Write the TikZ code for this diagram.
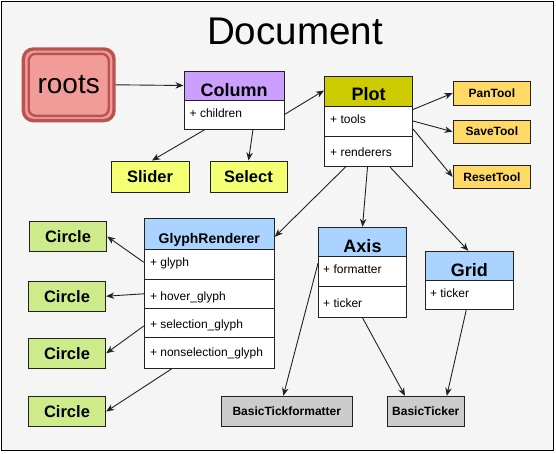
\documentclass[tikz,border=0pt]{standalone}
\usepackage{fontspec}
\setmainfont{Liberation Sans}
\usetikzlibrary{arrows.meta}
\definecolor{bgc}{HTML}{F5F5F5}
\definecolor{rootfill}{HTML}{F19C99}
\definecolor{rootline}{HTML}{B85450}
\definecolor{purp}{HTML}{CC9FFF}
\definecolor{olive}{HTML}{CCCC00}
\definecolor{toolc}{HTML}{FFD966}
\definecolor{yel}{HTML}{F5FF73}
\definecolor{blu}{HTML}{AAD4FF}
\definecolor{grn}{HTML}{CDEB8B}
\definecolor{gry}{HTML}{CCCCCC}
\definecolor{edge}{HTML}{222222}
\tikzset{
  px/.style={x=1pt,y=-1pt},
  box/.style={draw=edge, line width=1pt, inner sep=0pt, anchor=center},
  hdr/.style={box},
  rowbox/.style={box, fill=white},
  ttl/.style={font=\bfseries\fontsize{18}{18}\selectfont, text height=12.9pt, text depth=0pt, inner sep=0pt},
  rowtxt/.style={font=\fontsize{12}{12}\selectfont, anchor=west, inner sep=0pt, text height=6.2pt, text depth=0pt},
  small/.style={box, font=\bfseries\fontsize{12}{12}\selectfont},
  mid/.style={box, font=\bfseries\fontsize{16.5}{16.5}\selectfont},
  arr/.style={draw=edge, line width=0.9pt, -{Stealth[length=8pt,width=6.5pt,inset=2.5pt]}},
}
\begin{document}
\begin{tikzpicture}[px]
\useasboundingbox (0,0) rectangle (556,453);
\fill[bgc] (1.5,1.5) rectangle (553.5,450.5);
\draw[line width=1.6pt, black] (1.5,1.5) rectangle (553.5,450.5);

\node[font=\fontsize{38.6}{38.6}\selectfont, inner sep=0pt, text height=27.6pt, text depth=0pt] (title) at (295,31) {Document};

% roots
\node[draw=rootline, line width=3.4pt, fill=rootfill, rounded corners=10pt, minimum width=90.6pt, minimum height=71.6pt, inner sep=0pt] (roots) at (68.7,84.8) {};
\node[draw=rootline, line width=2.4pt, rounded corners=7pt, minimum width=80pt, minimum height=62pt, inner sep=0pt, font=\fontsize{28}{28}\selectfont] (rootsin) at (68.7,84.8) {roots};

% Column
\node[hdr, fill=purp, minimum width=100pt, minimum height=29pt, label={[ttl, yshift=-4.5pt]center:Column}] (colh) at (234,85.5) {};
\node[rowbox, minimum width=100pt, minimum height=29pt, label={[rowtxt, xshift=6pt]west:+ children}] (colr) at (234,114.5) {};

% Slider / Select
\node[mid, fill=yel, minimum width=78pt, minimum height=31pt] (slider) at (150,176.5) {Slider};
\node[mid, fill=yel, minimum width=77pt, minimum height=31pt] (select) at (248.5,176.5) {Select};

% Plot
\node[hdr, fill=olive, minimum width=88pt, minimum height=30pt, label={[ttl, yshift=-3pt]center:Plot}] (ploth) at (368.5,91) {};
\node[rowbox, minimum width=88pt, minimum height=30pt, label={[rowtxt, xshift=6pt, yshift=1pt]west:+ tools}] (plotr1) at (368.5,121) {};
\node[rowbox, minimum width=88pt, minimum height=30.5pt, label={[rowtxt, xshift=6pt, yshift=-2.5pt]west:+ renderers}] (plotr2) at (368.5,151.25) {};

% Tools
\node[small, fill=toolc, minimum width=77.7pt, minimum height=23.7pt] (pan) at (491.9,93.2) {PanTool};
\node[small, fill=toolc, minimum width=77.7pt, minimum height=22.7pt] (save) at (491.9,131.7) {SaveTool};
\node[small, fill=toolc, minimum width=77.7pt, minimum height=23pt] (reset) at (491.9,176.8) {ResetTool};

% GlyphRenderer
\node[hdr, fill=blu, minimum width=130pt, minimum height=31pt, label={[ttl, font=\bfseries\fontsize{14}{14}\selectfont, text height=10pt, yshift=-4.5pt]center:GlyphRenderer}] (grh) at (209.3,233.8) {};
\node[rowbox, minimum width=130pt, minimum height=30pt, label={[rowtxt, xshift=6pt, yshift=1pt]west:+ glyph}] (grr1) at (209.3,264.3) {};
\node[rowbox, minimum width=130pt, minimum height=29pt, label={[rowtxt, xshift=6pt, yshift=-3.5pt]west:+ hover\_glyph}] (grr2) at (209.3,293.8) {};
\node[rowbox, minimum width=130pt, minimum height=28.7pt, label={[rowtxt, xshift=6pt, yshift=-2.5pt]west:+ selection\_glyph}] (grr3) at (209.3,322.65) {};
\node[rowbox, minimum width=130pt, minimum height=31.3pt, label={[rowtxt, xshift=6pt, yshift=-0.5pt]west:+ nonselection\_glyph}] (grr4) at (209.3,352.65) {};

% Circles
\node[mid, fill=grn, minimum width=77.4pt, minimum height=30.4pt] (c1) at (68,236.5) {Circle};
\node[mid, fill=grn, minimum width=77.4pt, minimum height=30.3pt] (c2) at (67,296.2) {Circle};
\node[mid, fill=grn, minimum width=77.4pt, minimum height=30pt] (c3) at (67,353.3) {Circle};
\node[mid, fill=grn, minimum width=77.4pt, minimum height=30.4pt] (c4) at (67,411.5) {Circle};

% Axis
\node[hdr, fill=blu, minimum width=88pt, minimum height=29pt, label={[ttl, yshift=-3.8pt]center:Axis}] (axh) at (362.5,241.8) {};
\node[rowbox, minimum width=88pt, minimum height=30pt, label={[rowtxt, xshift=5pt, yshift=1.3pt]west:+ formatter}] (axr1) at (362.5,271.3) {};
\node[rowbox, minimum width=88pt, minimum height=31pt, label={[rowtxt, xshift=5pt, yshift=-2.2pt]west:+ ticker}] (axr2) at (362.5,301.8) {};

% Grid
\node[hdr, fill=blu, minimum width=88pt, minimum height=29pt, label={[ttl, yshift=-4pt]center:Grid}] (gdh) at (469.3,265.8) {};
\node[rowbox, minimum width=88pt, minimum height=29pt, label={[rowtxt, xshift=5pt, yshift=0.8pt]west:+ ticker}] (gdr1) at (469.3,294.8) {};

% Basic
\node[small, fill=gry, minimum width=131pt, minimum height=30pt] (btf) at (286.8,411.3) {BasicTickformatter};
\node[small, fill=gry, minimum width=77pt, minimum height=30pt] (bt) at (425.8,411.3) {BasicTicker};

% connectors
\draw[arr] (roots.east) -- (colh.west);
\draw[arr] (colr.east) -- ([yshift=0.5pt]ploth.west);
\draw[arr] ([xshift=-29pt]colr.south) -- ([xshift=2pt]slider.north);
\draw[arr] ([xshift=19pt]colr.south) -- (select.north);
\draw[arr] ([yshift=-4pt]plotr1.north east) -- (pan.west);
\draw[arr] (plotr1.east) -- (save.west);
\draw[arr] ([yshift=-8pt]plotr1.east) -- (reset.west);
\draw[arr] ([xshift=-23pt]plotr2.south) -- ([yshift=-3pt]grh.east);
\draw[arr] ([xshift=-1pt]plotr2.south) -- (axh.north);
\draw[arr] ([xshift=21.5pt]plotr2.south) -- ([xshift=-1pt]gdh.north);
\draw[arr] ([yshift=2pt]grr1.west) -- (c1.east);
\draw[arr] (grr2.west) -- (c2.east);
\draw[arr] ([yshift=-3.3pt]grr3.west) -- (c3.east);
\draw[arr] ([xshift=-37.6pt]grr4.south) -- (c4.east);
\draw[arr] ([yshift=8pt]axr1.west) -- ([xshift=-3.5pt]btf.north);
\draw[arr] (axr2.south) -- ([xshift=-20.8pt]bt.north);
\draw[arr] ([xshift=-3pt]gdr1.south) -- ([xshift=21pt]bt.north);
\end{tikzpicture}
\end{document}
